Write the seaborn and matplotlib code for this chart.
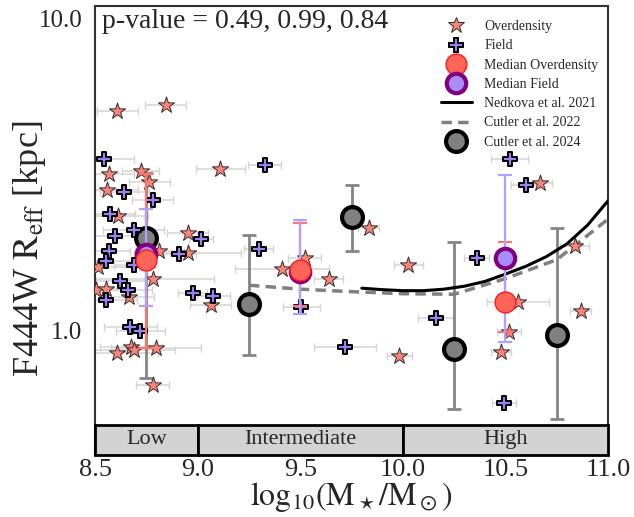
import matplotlib
matplotlib.use("Agg")
import matplotlib.pyplot as plt
import seaborn as sns
import numpy as np
import pandas as pd
from matplotlib.lines import Line2D
from matplotlib.ticker import LogLocator, FixedLocator, NullFormatter

# ---------------- data ----------------
over_mass = [8.607, 8.844, 9.111, 8.568, 8.722, 8.763, 8.560, 8.610, 8.951, 8.951,
             8.813, 8.515, 8.505, 8.781, 8.553, 8.667, 9.064, 8.607, 8.675, 8.691,
             8.797, 8.781, 9.411, 9.521, 9.638, 9.833, 10.027, 9.983, 10.668, 10.838,
             10.562, 10.867, 10.517, 10.478]
over_reff = [5.05, 5.28, 3.31, 3.19, 3.26, 3.01, 2.82, 2.33, 2.06, 1.78,
             1.80, 1.60, 1.35, 1.47, 1.36, 1.28, 1.21, 0.851, 0.89, 0.868,
             0.879, 0.670, 1.58, 1.71, 1.47, 2.14, 1.62, 0.83, 2.98, 1.87,
             1.24, 1.16, 0.99, 0.858]
over_xerr = [0.10, 0.10, 0.12, 0.12, 0.09, 0.10, 0.15, 0.15, 0.10, 0.26,
             0.12, 0.20, 0.15, 0.30, 0.10, 0.12, 0.10, 0.20, 0.15, 0.20,
             0.22, 0.08, 0.23, 0.08, 0.07, 0.05, 0.07, 0.06, 0.06, 0.07,
             0.15, 0.05, 0.06, 0.05]

field_mass = [8.542, 9.327, 8.643, 8.781, 8.574, 8.688, 8.597, 9.016, 8.570, 8.910,
              8.553, 8.691, 8.623, 8.659, 8.553, 8.975, 9.077, 8.672, 8.720, 9.298,
              9.505, 9.719, 10.522, 10.598, 10.360, 10.160, 10.493]
field_reff = [3.56, 3.41, 2.79, 2.63, 2.37, 2.11, 2.01, 1.97, 1.80, 1.76,
              1.67, 1.63, 1.44, 1.35, 1.26, 1.32, 1.29, 1.03, 1.00, 1.83,
              1.19, 0.89, 3.56, 2.93, 1.71, 1.10, 0.588]
field_xerr = [0.15, 0.08, 0.12, 0.10, 0.12, 0.15, 0.10, 0.06, 0.10, 0.08,
              0.12, 0.10, 0.12, 0.12, 0.15, 0.07, 0.08, 0.13, 0.12, 0.07,
              0.09, 0.15, 0.09, 0.07, 0.06, 0.085, 0.06]

bin_centers = [8.75, 9.5, 10.5]
med_over = [1.69, 1.57, 1.24]
med_over_lo = [0.88, 1.20, 0.99]
med_over_hi = [3.19, 2.21, 1.92]
med_field = [1.76, 1.54, 1.71]
med_field_lo = [1.20, 1.13, 0.92]
med_field_hi = [2.45, 2.26, 3.17]

c24_mass = [8.75, 9.25, 9.75, 10.25, 10.75]
c24_reff = [1.98, 1.22, 2.32, 0.875, 0.97]
c24_lo = [0.704, 0.837, 1.80, 0.563, 0.523]
c24_hi = [3.20, 2.03, 2.93, 1.92, 2.13]

ned_mass = [9.8, 9.9, 10.0, 10.1, 10.2, 10.3, 10.4, 10.5, 10.6, 10.7, 10.8, 10.9, 11.0]
ned_reff = [1.37, 1.355, 1.345, 1.345, 1.36, 1.39, 1.44, 1.52, 1.61, 1.73, 1.90, 2.18, 2.61]

c22_mass = [9.25, 9.5, 9.75, 10.0, 10.25, 10.5, 10.75, 11.0]
c22_reff = [1.40, 1.36, 1.335, 1.315, 1.31, 1.47, 1.69, 2.28]

bin_labels = ["Low", "Intermediate", "High"]
bin_edges = [8.5, 9.0, 10.0, 11.0]

pvalue_text = "p-value = 0.49, 0.99, 0.84"

# ---------------- style ----------------
sns.set_style("white")
plt.rcParams["font.family"] = ["Liberation Serif", "DejaVu Serif"]
plt.rcParams["mathtext.fontset"] = "stix"

STAR_C = "#f7857a"
PLUS_C = "#9d80f2"
MED_OVER_C = "#ff6459"
MED_FIELD_C = "#a98df7"

fig = plt.figure(figsize=(6.34, 5.17), dpi=100)
ax = fig.add_axes([0.150, 0.120, 0.809, 0.8685])

ax.set_xscale("linear")
ax.set_yscale("log")

# individual error bars
ax.errorbar(over_mass, over_reff, xerr=over_xerr, fmt="none", ecolor="#d4d4d4",
            elinewidth=1.1, capsize=3, zorder=1)
ax.errorbar(field_mass, field_reff, xerr=field_xerr, fmt="none", ecolor="#d4d4d4",
            elinewidth=1.1, capsize=3, zorder=1)

# Cutler 2024
c24_err = [np.array(c24_reff) - np.array(c24_lo), np.array(c24_hi) - np.array(c24_reff)]
ax.errorbar(c24_mass, c24_reff, yerr=c24_err, fmt="none", ecolor="#858585",
            elinewidth=2, capsize=5, capthick=2, zorder=2)
ax.plot(c24_mass, c24_reff, "o", ms=15, mfc="#808080", mec="black", mew=3,
        ls="none", zorder=2.5)

# literature lines
sns.lineplot(x=c22_mass, y=c22_reff, ax=ax, color="#808080", lw=2.5,
             linestyle=(0, (3.0, 1.8)), zorder=3, legend=False)
sns.lineplot(x=ned_mass, y=ned_reff, ax=ax, color="black", lw=2.2,
             zorder=3.2, legend=False)

# individual points
sns.scatterplot(x=over_mass, y=over_reff, ax=ax, marker="*", s=150, color=STAR_C,
                edgecolor="#3a2a2a", linewidth=0.7, zorder=4, legend=False)
sns.scatterplot(x=field_mass, y=field_reff, ax=ax, marker="P", s=110, color=PLUS_C,
                edgecolor="black", linewidth=1.4, zorder=4, legend=False)

# medians
mo_err = [np.array(med_over) - np.array(med_over_lo), np.array(med_over_hi) - np.array(med_over)]
mf_err = [np.array(med_field) - np.array(med_field_lo), np.array(med_field_hi) - np.array(med_field)]
ax.errorbar(bin_centers, med_over, yerr=mo_err, fmt="none", ecolor="#ff7468",
            elinewidth=1.6, capsize=5, capthick=1.6, zorder=5)
ax.errorbar(bin_centers, med_field, yerr=mf_err, fmt="none", ecolor="#b3a0fa",
            elinewidth=1.6, capsize=5, capthick=1.6, zorder=5.1)
ax.plot(bin_centers, med_field, "o", ms=14, mfc=MED_FIELD_C, mec="#800080", mew=3,
        ls="none", zorder=5.2)
ax.plot(bin_centers, med_over, "o", ms=15, mfc=MED_OVER_C, mec="#ff1a1a", mew=1,
        ls="none", zorder=5.3)

# mass-bin band
widths = [bin_edges[i + 1] - bin_edges[i] for i in range(3)]
ax.bar(bin_centers, [0.1] * 3, width=widths, bottom=0.4, color="#d3d3d3",
       edgecolor="black", linewidth=2, zorder=6, clip_on=False)
for xc, lab in zip(bin_centers, bin_labels):
    ax.text(xc, 0.447, lab, ha="center", va="center", fontsize=16, zorder=7)

# axes
ax.set_xlim(8.5, 11.0)
ax.set_ylim(0.4, 11.0)
ax.set_xticks([8.5, 9.0, 9.5, 10.0, 10.5, 11.0])
ax.set_xticklabels(["8.5", "9.0", "9.5", "10.0", "10.5", "11.0"])
ax.yaxis.set_major_locator(FixedLocator([1.0, 10.0]))
ax.set_yticklabels(["1.0", "10.0"])
ax.yaxis.set_minor_locator(LogLocator(base=10, subs=np.arange(2, 10)))
ax.yaxis.set_minor_formatter(NullFormatter())
ax.tick_params(axis="x", length=0, labelsize=19, pad=3)
ax.tick_params(axis="y", which="major", direction="inout", length=14, width=2,
               labelsize=18, pad=2)
ax.tick_params(axis="y", which="minor", direction="in", length=6, width=1)
for s in ax.spines.values():
    s.set_linewidth(1.5)
    s.set_color("#333333")

ax.set_xlabel(r"$\mathrm{log_{10}(M_\star/M_\odot)}$", fontsize=23, labelpad=-1)
ax.set_ylabel(r"F444W $\mathrm{R_{eff}}$ [kpc]", fontsize=26)
ax.yaxis.set_label_coords(-0.092, 0.46)

ax.text(0.013, 0.994, pvalue_text, transform=ax.transAxes, ha="left", va="top",
        fontsize=20, zorder=8)

handles = [
    Line2D([], [], ls="none", marker="*", ms=12, mfc=STAR_C, mec="#3a2a2a", mew=0.7),
    Line2D([], [], ls="none", marker="P", ms=10, mfc=PLUS_C, mec="black", mew=1.4),
    Line2D([], [], ls="none", marker="o", ms=15, mfc=MED_OVER_C, mec="#ff1a1a", mew=1),
    Line2D([], [], ls="none", marker="o", ms=14, mfc=MED_FIELD_C, mec="#800080", mew=3),
    Line2D([], [], color="black", lw=2.2),
    Line2D([], [], color="#808080", lw=2.5, ls=(0, (3.0, 1.8))),
    Line2D([], [], ls="none", marker="o", ms=15, mfc="#808080", mec="black", mew=3),
]
labels = ["Overdensity", "Field", "Median Overdensity", "Median Field",
          "Nedkova et al. 2021", "Cutler et al. 2022", "Cutler et al. 2024"]
leg = ax.legend(handles, labels, loc="upper right", frameon=False, fontsize=10,
                labelspacing=0.45, handlelength=2.2, handletextpad=0.9,
                borderaxespad=0.3, bbox_to_anchor=(1.0, 0.99))
leg.set_zorder(9)

fig.savefig("out.png", dpi=100)
